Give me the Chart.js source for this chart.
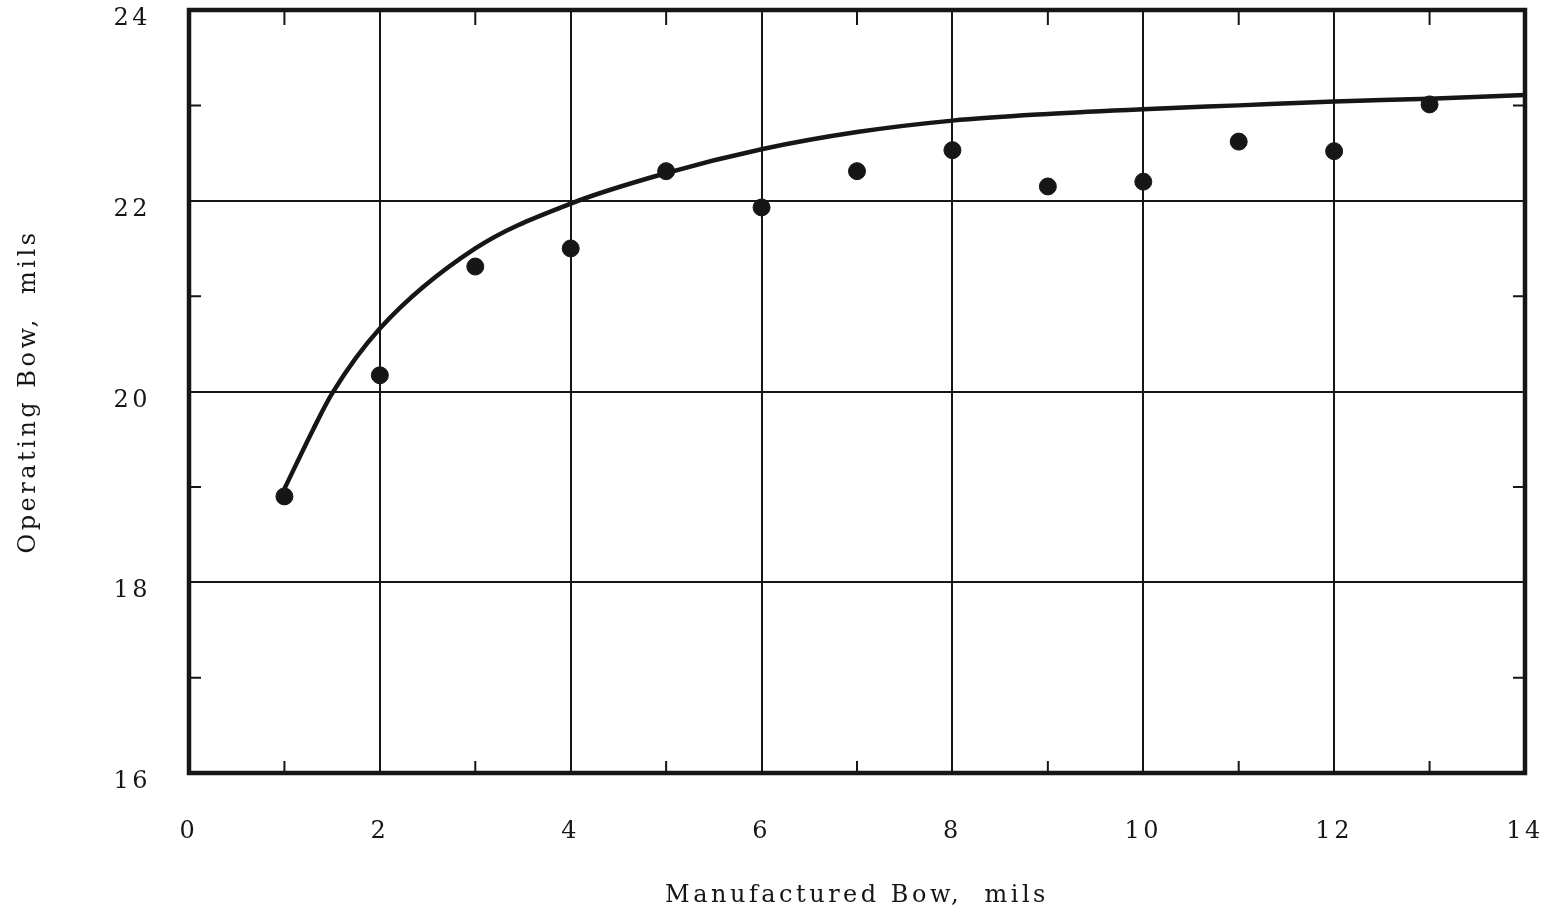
<!DOCTYPE html>
<html>
<head>
<meta charset="utf-8">
<script src="https://cdn.jsdelivr.net/npm/chart.js@4"></script>
<style>
  html, body { margin: 0; padding: 0; background: #fff; }
  #wrap { width: 1548px; height: 916px; }
</style>
</head>
<body>
<div id="wrap"><canvas id="bowChart" width="1548" height="916"></canvas></div>
<script>
// measured points (manufactured bow -> operating bow)
const manufacturedBow = [1, 2, 3, 4, 5, 6, 7, 8, 9, 10, 11, 12, 13]
const operatingBow = [18.9, 20.17, 21.31, 21.5, 22.31, 21.93, 22.31, 22.53, 22.15, 22.2, 22.62, 22.52, 23.01]

// faired curve through the data
const curveX = [1, 1.3, 1.5, 2, 3, 4, 5, 6, 7, 8, 9, 10, 11, 12, 13, 14]
const curveY = [18.98, 19.6, 19.98, 20.66, 21.5, 21.97, 22.29, 22.54, 22.72, 22.84, 22.91, 22.96, 23.0, 23.04, 23.07, 23.11]

const xTickLabels = ['0', '2', '4', '6', '8', '10', '12', '14']
const yTickLabels = ['16', '18', '20', '22', '24']

const INK = '#161616'
const FONT = { family: "'DejaVu Serif', serif", size: 24 }


function toPoints(xs, ys) {
    return xs.map((x, i) => ({ x: x, y: ys[i] }))
}

function innerGrid(value, min, max) {
    return value % 2 === 0 && value !== min && value !== max
}

// spacing of the typewritten lettering
const letterSpacing = {
    id: 'letterSpacing',
    beforeUpdate(chart) { chart.ctx.letterSpacing = '3.5px' },
    beforeDraw(chart) { chart.ctx.letterSpacing = '3.5px' }
}

// heavy frame plus small inward ticks at the odd values
const frameAndTicks = {
    id: 'frameAndTicks',
    afterDatasetsDraw(chart) {
        const { ctx, chartArea: a, scales } = chart
        ctx.save()
        ctx.strokeStyle = INK
        ctx.lineWidth = 2
        ctx.beginPath()
        for (let v = 1; v < 14; v += 2) {
            const px = scales.x.getPixelForValue(v)
            ctx.moveTo(px, a.top); ctx.lineTo(px, a.top + 15)
            ctx.moveTo(px, a.bottom); ctx.lineTo(px, a.bottom - 12)
        }
        for (let v = 17; v < 24; v += 2) {
            const py = scales.y.getPixelForValue(v)
            ctx.moveTo(a.left, py); ctx.lineTo(a.left + 12, py)
            ctx.moveTo(a.right, py); ctx.lineTo(a.right - 12, py)
        }
        ctx.stroke()
        ctx.lineWidth = 4.5
        ctx.strokeRect(a.left, a.top, a.right - a.left, a.bottom - a.top)
        ctx.restore()
    }
}


new Chart(document.getElementById('bowChart'), {
    type: 'scatter',
    data: {
        datasets: [
            {
                label: 'points',
                data: toPoints(manufacturedBow, operatingBow),
                backgroundColor: INK,
                borderColor: INK,
                pointRadius: 8.5,
                pointHoverRadius: 8.5,
                showLine: false
            },
            {
                label: 'curve',
                data: toPoints(curveX, curveY),
                borderColor: INK,
                borderWidth: 4.5,
                pointRadius: 0,
                showLine: true,
                cubicInterpolationMode: 'monotone',
                fill: false
            }
        ]
    },
    options: {
        responsive: false,
        animation: false,
        events: [],
        layout: { padding: { top: 10, right: 23, left: 0, bottom: 0 } },
        plugins: { legend: { display: false }, tooltip: { enabled: false } },
        scales: {
            x: {
                type: 'linear',
                min: 0, max: 14,
                afterFit(scale) {
                    scale.height = 143
                    scale.paddingLeft = 0
                    scale.paddingRight = 0
                },
                afterBuildTicks(scale) {
                    scale.ticks = xTickLabels.map(t => ({ value: Number(t) }))
                },
                ticks: {
                    color: INK, font: FONT, padding: 44, maxRotation: 0,
                    callback: (v) => String(v)
                },
                grid: {
                    drawTicks: false,
                    lineWidth: 2,
                    color: (c) => innerGrid(c.tick.value, 0, 14) ? INK : 'rgba(0,0,0,0)'
                },
                border: { display: false },
                title: {
                    display: true, text: 'Manufactured Bow,  mils',
                    color: INK, font: FONT, padding: { top: 0, bottom: 6 }
                }
            },
            y: {
                type: 'linear',
                min: 16, max: 24,
                afterFit(scale) {
                    scale.width = 189
                    scale.paddingTop = 0
                    scale.paddingBottom = 0
                },
                afterBuildTicks(scale) {
                    scale.ticks = yTickLabels.map(t => ({ value: Number(t) }))
                },
                ticks: {
                    color: INK, font: FONT, padding: 38, labelOffset: 9,
                    callback: (v) => String(v)
                },
                grid: {
                    drawTicks: false,
                    lineWidth: 2,
                    color: (c) => innerGrid(c.tick.value, 16, 24) ? INK : 'rgba(0,0,0,0)'
                },
                border: { display: false },
                title: {
                    display: true, text: 'Operating Bow,  mils',
                    color: INK, font: FONT, padding: { top: 14, bottom: 0 }
                }
            }
        }
    },
    plugins: [letterSpacing, frameAndTicks]
})
</script>
</body>
</html>
